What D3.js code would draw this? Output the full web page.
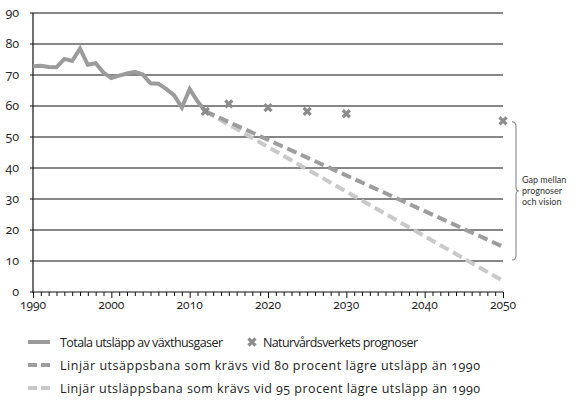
<!DOCTYPE html>
<html><head><meta charset="utf-8">
<script src="https://cdn.jsdelivr.net/npm/d3@7"></script>
<style>
body{margin:0;background:#fff;}
svg{font-family:"Open Sans","Lato",sans-serif;font-variant-numeric:oldstyle-nums;font-feature-settings:"onum" 1;}
.brace{font-family:"Lato","Open Sans",sans-serif;}
</style></head><body>
<svg id="c" width="577" height="400"></svg>
<script>
const years = [1990,1991,1992,1993,1994,1995,1996,1997,1998,1999,2000,2001,2002,2003,2004,2005,2006,2007,2008,2009,2010,2011,2012];
const totals = [72.8,73.0,72.6,72.5,75.2,74.5,78.5,73.3,73.8,70.8,69.0,69.8,70.5,71.0,70.2,67.3,67.2,65.5,63.5,59.5,65.5,61.5,58.3];
const forecastYears = [2012,2015,2020,2025,2030,2050];
const forecastValues = [58.3,60.7,59.5,58.3,57.5,55.2];
const path80Years = [2012,2050];
const path80Values = [58.3,14.6];
const path95Years = [2012,2050];
const path95Values = [58.3,3.6];
const yTicks = [0,10,20,30,40,50,60,70,80,90];
const xTicks = [1990,2000,2010,2020,2030,2040,2050];
const braceRange = [55.2,10.3];
const braceLabel = ["Gap mellan","prognoser","och vision"];
const legendLabels = ["Totala utsläpp av växthusgaser","Naturvårdsverkets prognoser","Linjär utsäppsbana som krävs vid 80 procent lägre utsläpp än 1990","Linjär utsläppsbana som krävs vid 95 procent lägre utsläpp än 1990"];

const svg = d3.select("#c");
const x = d3.scaleLinear().domain([1990,2050]).range([33,503]);
const y = d3.scaleLinear().domain([0,90]).range([292,13]);
const cLine="#9b9b9b", cMark="#8c8c8c", c80="#9d9d9d", c95="#c9c9c9";

// grid
svg.append("g").selectAll("line").data(yTicks.filter(d=>d>0)).join("line")
  .attr("x1",30).attr("x2",503).attr("y1",d=>y(d)).attr("y2",d=>y(d))
  .attr("stroke","#111").attr("stroke-width",1.2);
// y labels
svg.append("g").selectAll("text").data(yTicks).join("text")
  .attr("x",19).attr("y",d=>y(d)+4).attr("text-anchor","end")
  .attr("font-size",12.5).attr("fill","#222").text(d=>d);
// axes
svg.append("line").attr("x1",33).attr("x2",33).attr("y1",y(90)).attr("y2",y(0)+1).attr("stroke","#111").attr("stroke-width",1.2);
svg.append("line").attr("x1",30).attr("x2",503).attr("y1",y(0)).attr("y2",y(0)).attr("stroke","#111").attr("stroke-width",1.2);
const xAxis = d3.axisBottom(x).tickValues(d3.range(1990,2051)).tickSize(4).tickFormat("");
const gx = svg.append("g").attr("transform",`translate(0,${y(0)})`).call(xAxis);
gx.select(".domain").remove();
gx.selectAll(".tick line").attr("stroke","#111").attr("y2",d=>d%10===0?6:4);
svg.append("g").selectAll("text").data(xTicks).join("text")
  .attr("x",d=>x(d)).attr("y",309).attr("text-anchor","middle")
  .attr("font-size",12).attr("fill","#222").text(d=>d);

// dashed paths
const ln = d3.line().x(d=>x(d[0])).y(d=>y(d[1]));
svg.append("path").datum(d3.zip(path95Years,path95Values)).attr("d",ln)
  .attr("fill","none").attr("stroke",c95).attr("stroke-width",4).attr("stroke-dasharray","10,5");
svg.append("path").datum(d3.zip(path80Years,path80Values)).attr("d",ln)
  .attr("fill","none").attr("stroke",c80).attr("stroke-width",4).attr("stroke-dasharray","10,5");
// totals
svg.append("path").datum(d3.zip(years,totals)).attr("d",ln)
  .attr("fill","none").attr("stroke",cLine).attr("stroke-width",4).attr("stroke-linejoin","miter");
// forecast markers
function cross(g,cx,cy,s){
  g.append("path").attr("d",`M${cx-s},${cy-s}L${cx+s},${cy+s}M${cx-s},${cy+s}L${cx+s},${cy-s}`)
   .attr("stroke",cMark).attr("stroke-width",3.2).attr("stroke-linecap","butt");
}
const gm = svg.append("g");
forecastYears.forEach((yr,i)=>cross(gm,x(yr),y(forecastValues[i]),3.5));

// brace
const bt=y(braceRange[0])+1, bb=y(braceRange[1]), bm=(bt+bb)/2, bx=512;
svg.append("path").attr("d",
  `M${bx},${bt}Q${bx+4},${bt} ${bx+4},${bt+5}L${bx+4},${bm-4}Q${bx+4},${bm} ${bx+7},${bm}Q${bx+4},${bm} ${bx+4},${bm+4}L${bx+4},${bb-5}Q${bx+4},${bb} ${bx},${bb}`)
  .attr("fill","none").attr("stroke","#888").attr("stroke-width",1.1);
svg.append("g").attr("class","brace").selectAll("text").data(braceLabel).join("text")
  .attr("x",522).attr("y",(d,i)=>bm-8+i*11).attr("font-size",9).attr("fill","#333").text(d=>d);

// legend
const lg = svg.append("g").attr("font-size",12.5).attr("fill","#222");
const rows=[342,365,388];
lg.append("line").attr("x1",28).attr("x2",50).attr("y1",rows[0]).attr("y2",rows[0]).attr("stroke",cLine).attr("stroke-width",4);
lg.append("text").attr("x",60).attr("y",rows[0]+4.5).attr("textLength",163).attr("lengthAdjust","spacing").text(legendLabels[0]);
cross(lg,252,rows[0],3.5);
lg.append("text").attr("x",263).attr("y",rows[0]+4.5).attr("textLength",155).attr("lengthAdjust","spacing").text(legendLabels[1]);
[[c80,rows[1],legendLabels[2]],[c95,rows[2],legendLabels[3]]].forEach(([c,yy,t])=>{
  lg.append("line").attr("x1",28).attr("x2",50).attr("y1",yy).attr("y2",yy).attr("stroke",c).attr("stroke-width",4).attr("stroke-dasharray","9,4");
  lg.append("text").attr("x",60).attr("y",yy+4.5).attr("textLength",420).attr("lengthAdjust","spacing").text(t);
});
</script></body></html>
